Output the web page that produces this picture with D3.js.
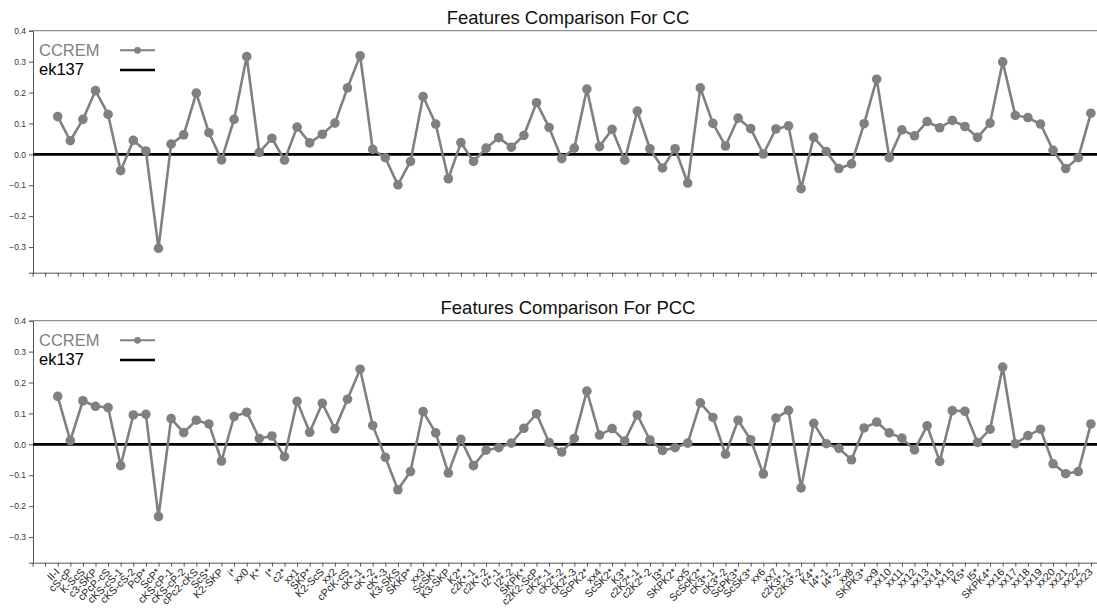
<!DOCTYPE html>
<html>
<head>
<meta charset="utf-8">
<script src="https://cdn.jsdelivr.net/npm/d3@7"></script>
<style>
  html, body { margin: 0; padding: 0; background: #fff; }
  svg { display: block; font-family: "Liberation Sans", Arial, Helvetica, sans-serif; }
</style>
</head>
<body>
<svg id="chart" width="1097" height="615"></svg>
<script>
// Feature names along the x axis
const features = [
  "II-I", "cS-cP", "K-ScS", "c3-SKP", "cPcP-cS", "cKS-cS-1", "cKS-cS-2", "PcP*", "ScP*",
  "cKS-cP-1", "cKS-cP-2", "cPc2-cKS", "ScS*", "K2-SKP", "i*", "xx0", "K*", "I*", "c2*",
  "xx1", "SKP*", "K2-ScS", "xx2", "cPcK-cS", "cK*-1", "cK*-2", "cK*-3", "K3-SKS", "SKKP*",
  "xx3", "ScSK*", "K3-SKP", "K2*", "c2K*-1", "c2K*-2", "I2*-1", "I2*-2", "SKPK*",
  "c2K2-ScP", "cK2*-1", "cK2*-2", "cK2*-3", "ScPK2*", "xx4", "ScSK2*", "K3*", "c2K2*-1",
  "c2K2*-2", "I3*", "SKPK2*", "xx5", "ScScK2*", "cK3*-1", "cK3*-2", "ScPK3*", "ScSK3*",
  "xx6", "xx7", "c2K3*-1", "c2K3*-2", "K4*", "I4*-1", "I4*-2", "xx8", "SKPK3*", "xx9",
  "xx10", "xx11", "xx12", "xx13", "xx14", "xx15", "K5*", "I5*", "SKPK4*", "xx16", "xx17",
  "xx18", "xx19", "xx20", "xx21", "xx22", "xx23"
];

// CCREM differences for the CC metric
const ccValues = [
  0.122, 0.044, 0.113, 0.206, 0.129, -0.053, 0.045, 0.011, -0.304, 0.033,
  0.063, 0.198, 0.070, -0.018, 0.113, 0.316, 0.006, 0.052, -0.019, 0.088,
  0.037, 0.065, 0.101, 0.215, 0.319, 0.016, -0.011, -0.099, -0.023, 0.187,
  0.098, -0.079, 0.038, -0.023, 0.020, 0.054, 0.023, 0.061, 0.167, 0.087,
  -0.014, 0.020, 0.211, 0.025, 0.081, -0.019, 0.140, 0.018, -0.044, 0.018,
  -0.093, 0.215, 0.100, 0.027, 0.117, 0.083, 0.001, 0.082, 0.092, -0.111,
  0.055, 0.009, -0.046, -0.031, 0.099, 0.243, -0.011, 0.079, 0.060, 0.106,
  0.086, 0.110, 0.090, 0.055, 0.101, 0.299, 0.126, 0.119, 0.098, 0.013,
  -0.046, -0.011, 0.133
];

// CCREM differences for the PCC metric
const pccValues = [
  0.155, 0.012, 0.141, 0.123, 0.119, -0.069, 0.095, 0.097, -0.234, 0.083,
  0.038, 0.078, 0.066, -0.054, 0.090, 0.104, 0.019, 0.027, -0.040, 0.139,
  0.039, 0.133, 0.050, 0.146, 0.243, 0.061, -0.042, -0.147, -0.088, 0.106,
  0.037, -0.093, 0.016, -0.069, -0.019, -0.011, 0.004, 0.052, 0.099, 0.006,
  -0.025, 0.019, 0.172, 0.030, 0.051, 0.011, 0.095, 0.014, -0.020, -0.011,
  0.004, 0.134, 0.087, -0.032, 0.078, 0.015, -0.096, 0.085, 0.110, -0.141,
  0.068, 0.002, -0.013, -0.050, 0.053, 0.072, 0.037, 0.020, -0.018, 0.060,
  -0.055, 0.109, 0.107, 0.006, 0.049, 0.250, 0.002, 0.028, 0.049, -0.063,
  -0.095, -0.088, 0.066
];

// Reference level (ek137) and y ticks
const baselineValue = 0;
const yTicks = [0.4, 0.3, 0.2, 0.1, 0.0, -0.1, -0.2, -0.3];
const seriesNames = ["CCREM", "ek137"];
const panelTitles = ["Features Comparison For CC", "Features Comparison For PCC"];

const svg = d3.select("#chart");
const left = 33, right = 1097;
const gray = "#808080";

// index -> pixel; index -2 sits on the left spine
const x = d3.scaleLinear().domain([0, 82]).range([57.7, 1090.9]);
const xTicks = d3.range(-2, 83);

function drawPanel(values, title, top, showLabels) {
  const bottom = top + 242;
  const y = d3.scaleLinear().domain([-0.383, 0.4]).range([bottom, top]);
  const g = svg.append("g");

  // title
  g.append("text")
    .attr("x", (left + right) / 2 + 3)
    .attr("y", top - 6.5)
    .attr("text-anchor", "middle")
    .attr("font-size", 18.5)
    .attr("fill", "#111")
    .text(title);

  // y axis
  const yAxis = d3.axisLeft(y).tickValues(yTicks).tickSize(4).tickPadding(3)
    .tickFormat(d3.format(".1f"));
  const ya = g.append("g").attr("transform", `translate(${left},0)`).call(yAxis);
  ya.select(".domain").attr("stroke", "#555").attr("stroke-width", 1);
  ya.selectAll(".tick line").attr("stroke", "#555");
  ya.selectAll("text").attr("font-size", 8.5).attr("fill", "#333")
    .attr("font-family", "Liberation Sans, Arial, sans-serif");

  // x axis
  const xAxis = d3.axisBottom(x).tickValues(xTicks).tickSize(4).tickSizeOuter(0)
    .tickFormat(i => (i >= 0 && showLabels) ? features[i] : "");
  const xa = g.append("g").attr("transform", `translate(0,${bottom})`).call(xAxis);
  xa.select(".domain").attr("d", `M${left},0.5H${right}`).attr("stroke", "#555");
  xa.selectAll(".tick line").attr("stroke", "#555");
  xa.selectAll("text")
    .attr("font-size", 10.5)
    .attr("fill", "#222")
    .attr("font-family", "Liberation Sans, Arial, sans-serif")
    .attr("text-anchor", "end")
    .attr("x", 0).attr("y", 0).attr("dy", 0)
    .attr("transform", "translate(2,10) rotate(-45)");

  // top border
  g.append("line")
    .attr("x1", left).attr("x2", right)
    .attr("y1", top).attr("y2", top)
    .attr("stroke", "#777").attr("stroke-width", 1);

  // ek137 reference line
  g.append("line")
    .attr("x1", left).attr("x2", right)
    .attr("y1", y(baselineValue)).attr("y2", y(baselineValue))
    .attr("stroke", "#000").attr("stroke-width", 2.6);

  // CCREM series
  const line = d3.line().x((d, i) => x(i)).y(d => y(d));
  g.append("path")
    .datum(values)
    .attr("d", line)
    .attr("fill", "none")
    .attr("stroke", gray)
    .attr("stroke-width", 2.6)
    .attr("stroke-linejoin", "round");

  g.selectAll("circle.pt")
    .data(values)
    .join("circle")
    .attr("class", "pt")
    .attr("cx", (d, i) => x(i))
    .attr("cy", d => y(d))
    .attr("r", 4.8)
    .attr("fill", gray);

  // legend
  const lg = g.append("g");
  lg.append("text").attr("x", 39).attr("y", top + 25).attr("font-size", 16.5)
    .attr("fill", gray).text(seriesNames[0]);
  lg.append("line").attr("x1", 120).attr("x2", 155)
    .attr("y1", top + 19.6).attr("y2", top + 19.6)
    .attr("stroke", gray).attr("stroke-width", 2);
  lg.append("circle").attr("cx", 137.5).attr("cy", top + 19.6).attr("r", 3.4).attr("fill", gray);
  lg.append("text").attr("x", 39).attr("y", top + 44.3).attr("font-size", 16.5)
    .attr("fill", "#000").text(seriesNames[1]);
  lg.append("line").attr("x1", 120).attr("x2", 155)
    .attr("y1", top + 39.3).attr("y2", top + 39.3)
    .attr("stroke", "#000").attr("stroke-width", 2.4);
}

drawPanel(ccValues, panelTitles[0], 30.7, false);
drawPanel(pccValues, panelTitles[1], 320.7, true);
</script>
</body>
</html>
